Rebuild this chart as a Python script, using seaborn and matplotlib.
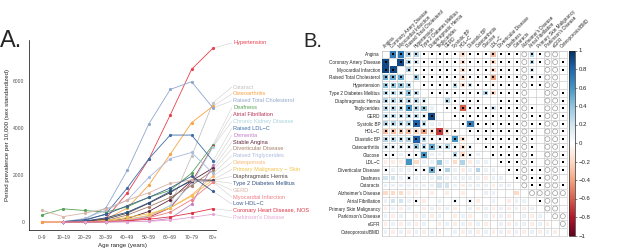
import numpy as np
import pandas as pd
import seaborn as sns
import matplotlib.pyplot as plt
from matplotlib.cm import ScalarMappable
from matplotlib.colors import Normalize, LinearSegmentedColormap

nan = np.nan

# ---- panel A data: period prevalence per 10,000 by age band ----
ages = ["0–9", "10–19", "20–29", "30–39", "40–49", "50–59", "60–69", "70–79", "80+"]

hypertension = [0, 0, 30, 150, 1250, 2670, 4550, 6500, 7400]
cataract = [nan, 0, 0, 20, 80, 250, 700, 2800, 5080]
osteoarthritis = [0, 0, 30, 120, 600, 1570, 2880, 4230, 4930]
raised_tc = [nan, 0, 120, 610, 2210, 4170, 5640, 5970, 4850]
deafness = [300, 560, 490, 420, 650, 1050, 1350, 2080, 3280]
atrial_fib = [nan, 0, 0, 10, 50, 200, 600, 1700, 3220]
ckd = [nan, 0, 0, 20, 80, 250, 700, 1600, 3200]
raised_ldl = [nan, 0, 60, 350, 1460, 2690, 3700, 3700, 2600]
dementia = [nan, 0, 0, 0, 10, 40, 150, 760, 2420]
stable_angina = [nan, 0, 0, 20, 150, 450, 950, 1750, 2300]
diverticular = [nan, 0, 10, 60, 300, 650, 1050, 1550, 2200]
raised_tg = [nan, 10, 150, 510, 935, 1900, 2700, 2960, 2070]
osteoporosis = [nan, 0, 10, 30, 120, 280, 600, 1150, 1950]
skin_malignancy = [nan, 0, 20, 60, 200, 350, 600, 1100, 1800]
diaph_hernia = [nan, 0, 30, 120, 380, 800, 1250, 1800, 1780]
t2dm = [nan, 10, 40, 180, 420, 820, 1300, 1750, 1750]
gerd = [500, 230, 380, 560, 935, 1245, 1645, 1790, 1720]
mi = [nan, 0, 0, 10, 60, 180, 420, 950, 1700]
low_hdl = [nan, 20, 100, 320, 700, 1050, 1450, 1950, 1300]
chd_nos = [nan, 0, 0, 10, 50, 120, 220, 380, 570]
parkinsons = [nan, 0, 0, 0, 10, 30, 80, 200, 330]

diseases = ["Hypertension", "Cataract", "Osteoarthritis", "Raised Total Cholesterol",
            "Deafness", "Atrial Fibrillation", "Chronic Kidney Disease", "Raised LDL−C",
            "Dementia", "Stable Angina", "Diverticular Disease", "Raised Triglycerides",
            "Osteoporosis", "Primary Malignancy − Skin", "Diaphragmatic Hernia",
            "Type 2 Diabetes Mellitus", "GERD", "Myocardial Infarction", "Low HDL−C",
            "Coronary Heart Disease, NOS", "Parkinson's Disease"]
series = [hypertension, cataract, osteoarthritis, raised_tc, deafness, atrial_fib, ckd,
          raised_ldl, dementia, stable_angina, diverticular, raised_tg, osteoporosis,
          skin_malignancy, diaph_hernia, t2dm, gerd, mi, low_hdl, chd_nos, parkinsons]
colors = ["#e8414e", "#c2c2c2", "#f6a343", "#8fa8cc", "#56a256", "#b63356", "#a8d3dc",
          "#3d6ea8", "#c27fc3", "#5e2a3b", "#a4806a", "#a9b9dc", "#f8b46e", "#f2c34a",
          "#4d4040", "#2f4f80", "#d9b3a6", "#ee7f86", "#3c5f8e", "#dd3344", "#e3a6d2"]

# ---- panel B data: correlation matrix ----
# codes: '1'..'9' = +0.1..+0.9, 'a'..'i' = -0.1..-0.9, '.' = nothing drawn
vars_b = ["Angina", "Coronary Artery Disease", "Myocardial Infarction",
          "Raised Total Cholesterol", "Hypertension", "Type 2 Diabetes Mellitus",
          "Diaphragmatic Hernia", "Triglycerides", "GERD", "Systolic BP", "HDL−C",
          "Diastolic BP", "Osteoarthritis", "Glucose", "LDL−C", "Diverticular Disease",
          "Deafness", "Cataracts", "Alzheimer's Disease", "Atrial Fibrillation",
          "Primary Skin Malignancy", "Parkinson's Disease", "eGFR", "Osteoporosis/BMD"]

corr_rows = [
    ".7733.....b...c....3....",
    "9.932.....b...b....3....",
    "99.3......b...b....2....",
    "555.4.....b...d....1....",
    "4443.....3b2..a.........",
    "33343........3b.........",
    "333332..3...............",
    "3336341...f...2.........",
    "3333329.................",
    "33338311...7............",
    "ccccbdbgba..............",
    "33338311.6b.............",
    "2222435231b1............",
    "11111611.3b11...........",
    "aaa6b1141b3a11..........",
    "1111115131a1311.........",
    "2212111211111a11........",
    "1111111221a111a11.......",
    "bbbaa.a.a.a..11..b......",
    "12211a.1.1.1a.1.a11.....",
    "a1a1.a1a1a.1a1a1a1a1....",
    "1a1.a1a1.a1a.1a1a.1a1...",
    "a1a1a1.a1a1a1a.1a11a1a..",
    "1a1a1a1a.1a1a1a1a1a1a1a.",
]

# '*' = filled dot, 'o' = open circle
sig_rows = [
    "." + "*" * 17 + "o**oo.",
    "*." + "*" * 16 + "o**oo*",
    "**." + "*" * 15 + "o*.oo*",
    "***." + "*" * 14 + "o**oo.",
    "****." + "*" * 13 + "o**oo.",
    "*****." + "*" * 12 + "o..oo*",
    "******" + ".." + "*" * 5 + ".." + "***" + "o..oo*",
    "******" + ".." + "*" * 10 + "o*.oo*",
    "*******" + ".." + "*" * 9 + "o**oo*",
    "******" + "...." + "**" + "******" + "o**oo*",
    "*" * 10 + "." + "*" * 7 + "o*.oo*",
    "*" * 11 + "." + "*" * 6 + "o*.oo*",
    "*" * 12 + "." + "*" * 5 + "o*.oo*",
    "**.***...***." + "." + "****" + "o*.oo*",
    "." * 15 + "***" + "o*.oo*",
    "*...****" + "." * 8 + "**" + "o**oo*",
    "...*" + "." * 13 + "*" + "o**oo.",
    "." * 18 + "o**oo*",
    "." * 19 + "ooooo",
    "....*....*.*" + "." * 8 + "*oo.",
    "." * 21 + "oo.",
    "." * 22 + "oo",
    "." * 23 + "o",
    "." * 24,
]


def decode(ch):
    if ch.isdigit():
        return int(ch) / 10
    if ch in "abcdefghi":
        return -(ord(ch) - 96) / 10
    return 0.0


sns.set_style("white")
plt.rcParams['font.family'] = ['Liberation Sans', 'DejaVu Sans']

fig = plt.figure(figsize=(6.17, 2.5), dpi=100)

# ================= panel A =================
axA = fig.add_axes([29 / 617, 20 / 250, 187 / 617, 190 / 250])
recs = []
for name, vals in zip(diseases, series):
    for i, v in enumerate(vals):
        if not np.isnan(v):
            recs.append((name, i, v))
dfA = pd.DataFrame(recs, columns=["disease", "age", "prev"])
sns.lineplot(data=dfA, x="age", y="prev", hue="disease", hue_order=diseases,
             palette=dict(zip(diseases, colors)), estimator=None, marker="o",
             markersize=2.3, markeredgewidth=0, linewidth=0.6, legend=False, ax=axA)

# repelled labels on the right
last = len(ages) - 1
label_ys = np.linspace(5744, 183, len(diseases) - 1)
for k, (name, vals, c) in enumerate(zip(diseases, series, colors)):
    ly = vals[-1] + 220 if k == 0 else label_ys[k - 1]
    axA.plot([last, 8.88], [vals[-1], ly], color="#cfcfcf", lw=0.4, clip_on=False, zorder=0)
    axA.text(8.94, ly, name, color=c, fontsize=4.1, ha="left", va="center", clip_on=False)

axA.set_xlim(-0.6, 8.14)
axA.set_ylim(-340, 7745)
axA.set_xticks(range(len(ages)))
axA.set_xticklabels(ages)
axA.set_yticks([0, 2000, 4000, 6000])
axA.set_xlabel("Age range (years)", fontsize=4.4, labelpad=2)
axA.set_ylabel("Period prevalence per 10,000 (sex standardized)", fontsize=4.4, labelpad=2)
axA.tick_params(length=2, width=0.4, labelsize=3.6, pad=1.5, labelcolor="#4d4d4d")
for s in ["top", "right"]:
    axA.spines[s].set_visible(False)
for s in ["left", "bottom"]:
    axA.spines[s].set_linewidth(0.5)
    axA.spines[s].set_color("black")

# ================= panel B =================
cmap = LinearSegmentedColormap.from_list(
    "corr", ["#67001F", "#B2182B", "#D6604D", "#F4A582", "#FDDBC7", "#FFFFFF",
             "#D1E5F0", "#92C5DE", "#4393C3", "#2166AC", "#053061"])

cells, marks = [], []
for i, (crow, srow) in enumerate(zip(corr_rows, sig_rows)):
    for j, (c, s) in enumerate(zip(crow, srow)):
        r = decode(c)
        if r != 0:
            cells.append((i, j, r, abs(r)))
        if s != ".":
            marks.append((i, j, s))
dfB = pd.DataFrame(cells, columns=["row", "col", "r", "absr"])
dfM = pd.DataFrame(marks, columns=["row", "col", "kind"])

axB = fig.add_axes([381.7 / 617, 14.5 / 250, 185 / 617, 185 / 250])
sns.scatterplot(data=dfB, x="col", y="row", hue="r", size="absr", palette=cmap,
                hue_norm=(-1, 1), sizes=(5, 28), size_norm=(0, 1), marker="s",
                linewidth=0, legend=False, ax=axB, zorder=3)
sns.scatterplot(data=dfM[dfM.kind == "*"], x="col", y="row", marker="s", s=1.3,
                color="black", linewidth=0, legend=False, ax=axB, zorder=4)
sns.scatterplot(data=dfM[dfM.kind == "o"], x="col", y="row", marker="o", s=13,
                facecolor="none", edgecolor="#9a9a9a", linewidth=0.5, legend=False,
                ax=axB, zorder=4)

n = len(vars_b)
axB.set_xlim(-0.5, n - 0.5)
axB.set_ylim(n - 0.5, -0.5)
axB.set_xticks(np.arange(-0.5, n, 1), minor=True)
axB.set_yticks(np.arange(-0.5, n, 1), minor=True)
axB.grid(which="minor", color="#cccccc", lw=0.5)
axB.set_axisbelow(True)
axB.set_yticks(range(n))
axB.set_yticklabels(vars_b, fontsize=3.3)
axB.xaxis.tick_top()
axB.set_xticks(range(n))
axB.set_xticklabels(vars_b, fontsize=3.3, rotation=45, ha="left", va="bottom",
                    rotation_mode="anchor")
axB.tick_params(which="both", length=0, pad=1.2)
axB.set_xlabel("")
axB.set_ylabel("")
for s in axB.spines.values():
    s.set_color("#cccccc")
    s.set_linewidth(0.5)

# colour bar
cax = fig.add_axes([569.3 / 617, 14.5 / 250, 5.5 / 617, 185 / 250])
cb = fig.colorbar(ScalarMappable(norm=Normalize(-1, 1), cmap=cmap), cax=cax)
ticks = np.round(np.arange(-1, 1.01, 0.2), 1)
cb.set_ticks(ticks)
cb.set_ticklabels(["0" if t == 0 else f"{t:g}".replace("-", "−") for t in ticks])
cb.ax.tick_params(labelsize=4.3, length=1.5, width=0.4, pad=1.5)
cb.outline.set_linewidth(0.5)

fig.text(0.0, 1 - 46.7 / 250, "A.", fontsize=17, va="baseline")
fig.text(303 / 617, 1 - 47.3 / 250, "B.", fontsize=14.5, va="baseline")

fig.savefig("out.png", dpi=100)
